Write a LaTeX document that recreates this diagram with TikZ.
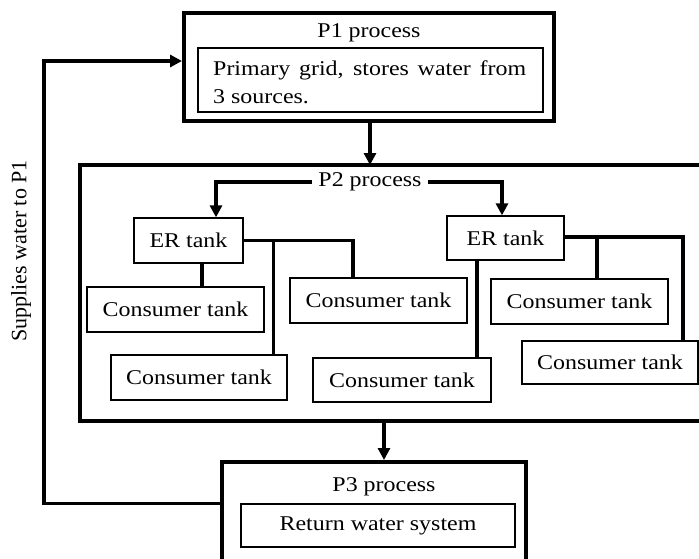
\documentclass[tikz,border=0pt]{standalone}
\usepackage{fontspec}
\setmainfont[FakeStretch=1.14]{Liberation Serif}
\newfontfamily\upright{Liberation Serif}
\usetikzlibrary{arrows.meta}
\begin{document}
\begin{tikzpicture}[x=1pt,y=-1pt,
  font=\fontsize{21}{28}\selectfont,
  outerbox/.style={draw,line width=4pt,minimum width=#1,inner sep=0pt},
  thinbox/.style={draw,line width=1.3pt,inner sep=0pt,minimum height=45pt,minimum width=#1},
  link/.style={line width=3.6pt},
  flow/.style={line width=3.2pt,-{Triangle[length=12pt,width=12pt]}},
  ]
\clip (0,0) rectangle (699,558);
\fill[white] (0,0) rectangle (699,558);

% P1: primary grid
\node[outerbox=370pt,minimum height=108pt] (p1) at (369,67) {};
\node (p1lab) at (369,33) {P1 process};
\node[thinbox=345pt,minimum height=64pt] (p1in) at (370.5,80) {};
\node[anchor=north west,inner sep=0pt,align=left] (p1txt) at (213,60.5)
  {\makebox[313pt][s]{Primary grid, stores water from}\\3 sources.};

% P2: distribution
\node[outerbox=640pt,minimum height=256pt] (p2) at (400,293) {};
\node[inner sep=6pt] (p2lab) at (370,182) {P2 process};

\node[thinbox=109pt] (er1) at (188.5,240.5) {ER tank};
\node[thinbox=117pt,minimum height=44pt] (er2) at (505.5,238) {ER tank};

\node[thinbox=177pt] (ct1) at (175.5,309.5) {Consumer tank};
\node[thinbox=176pt] (ct2) at (199,377.5) {Consumer tank};
\node[thinbox=177pt] (ct3) at (378.5,300.5) {Consumer tank};
\node[thinbox=178pt,minimum height=44pt] (ct4) at (402,380) {Consumer tank};
\node[thinbox=177pt] (ct5) at (579.5,301.5) {Consumer tank};
\node[thinbox=176pt,minimum height=43pt] (ct6) at (610,362.5) {Consumer tank};

% P3: return
\node[outerbox=304pt,minimum height=150pt] (p3) at (374,537) {};
\node (p3lab) at (384,487) {P3 process};
\node[thinbox=274pt,minimum height=43pt] (p3in) at (378,525.5) {Return water system};

% feed lines inside P2
\draw[flow] (p2lab.west) -| ([xshift=27.5pt]er1.north);
\draw[flow] (p2lab.east) -| ([xshift=-3.5pt]er2.north);

\draw[link] ([xshift=13.5pt]er1.south) -- ([xshift=26.5pt]ct1.north);
\draw[link] (er1.east) -| ([xshift=-25.5pt]ct3.north);
\draw[link] (er1.east -| ct2.north east) ++(-14,0) coordinate (j1) -- (j1 |- ct2.north);
\draw[link] ([xshift=-28.5pt]er2.south) -- ([xshift=-28.5pt]er2.south |- ct4.north);
\draw[link] ([yshift=1pt]er2.east) -| ([xshift=73pt]ct6.north);
\draw[link] ([xshift=17.5pt,yshift=1pt]ct5.north |- er2.east) -- ([xshift=17.5pt]ct5.north);

% stage to stage
\draw[flow] (p1.south -| p1lab) ++(1,0) -- ++(0,42);
\draw[flow] (p2.south -| p3lab) -- (p3.north -| p3lab);

% return loop
\draw[line width=3.6pt,-{Triangle[length=12pt,width=12pt]}]
  (p3in.north -| p3.west) -| (44,61) -- ([yshift=6pt]p1.west);
\node[rotate=90,font=\fontsize{22}{26}\selectfont] (fb) at (21,251) {\upright Supplies water to P1};
\end{tikzpicture}
\end{document}
